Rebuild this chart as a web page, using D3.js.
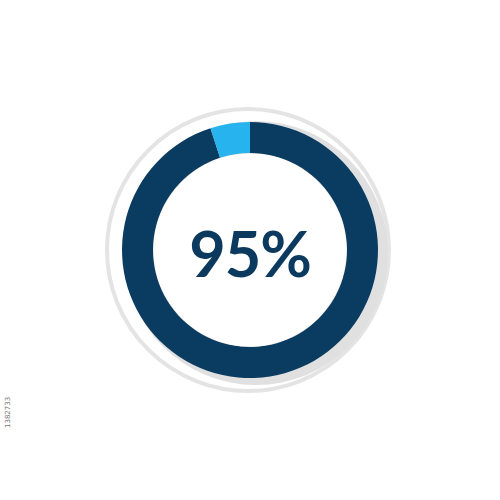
<!DOCTYPE html>
<html>
<head>
<meta charset="utf-8">
<script src="https://cdn.jsdelivr.net/npm/d3@7"></script>
<style>
  html, body { margin: 0; padding: 0; background: #ffffff; }
  svg { display: block; }
</style>
</head>
<body>
<svg id="chart" width="500" height="500"></svg>
<script>
// ---- data ----
const categories = ["Filled", "Remaining"];
const values = [95, 5];
const centerLabel = "95%";
const stockId = "1382733";

// ---- styles ----
const colors = ["#0a3b61", "#27b3ee"];
const W = 500, H = 500, cx = 250, cy = 250;
const outerR = 128, innerR = 97;

const svg = d3.select("#chart");

// decorative background ring and shadow
svg.append("circle")
  .attr("cx", cx - 2).attr("cy", cy).attr("r", 141)
  .attr("fill", "none").attr("stroke", "#e4e4e4").attr("stroke-width", 4);
svg.append("circle")
  .attr("cx", cx + 6).attr("cy", cy + 3).attr("r", 132)
  .attr("fill", "#e0e0e0");

// donut
const pie = d3.pie()
  .sort(null)
  .startAngle(0)
  .endAngle(2 * Math.PI)
  .value(d => d);

const arc = d3.arc().innerRadius(innerR).outerRadius(outerR);

const g = svg.append("g").attr("transform", `translate(${cx},${cy})`);
g.selectAll("path")
  .data(pie(values))
  .join("path")
  .attr("d", arc)
  .attr("fill", (d, i) => colors[i]);

g.append("circle").attr("r", innerR - 0.5).attr("fill", "#ffffff");

g.append("text")
  .attr("x", 0).attr("y", 2)
  .attr("text-anchor", "middle")
  .attr("dominant-baseline", "central")
  .attr("font-family", "Lato, 'Open Sans', sans-serif")
  .attr("font-size", 63)
  .attr("font-weight", 700)
  .attr("letter-spacing", -1)
  .attr("fill", "#0c3a5e")
  .text(centerLabel);

// small vertical id text
svg.append("text")
  .attr("transform", "translate(10,428) rotate(-90)")
  .attr("font-family", "'DejaVu Sans', sans-serif")
  .attr("font-size", 7)
  .attr("fill", "#777")
  .text(stockId);
</script>
</body>
</html>
